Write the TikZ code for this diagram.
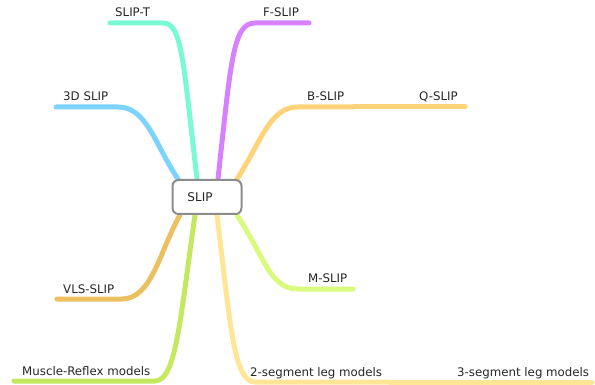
\documentclass[tikz,border=0pt]{standalone}
\usepackage{fontspec}
\setmainfont{DejaVu Sans}
\usetikzlibrary{backgrounds,calc}

\definecolor{c3d}{RGB}{125,211,255}
\definecolor{cslipt}{RGB}{122,250,212}
\definecolor{cfslip}{RGB}{214,130,255}
\definecolor{cbslip}{RGB}{255,211,122}
\definecolor{cvls}{RGB}{235,192,96}
\definecolor{cmuscle}{RGB}{196,232,96}
\definecolor{cseg}{RGB}{255,230,150}
\definecolor{cmslip}{RGB}{216,250,125}

\begin{document}
\begin{tikzpicture}[
    x=1pt, y=-1pt,
    topic/.style={rectangle, draw=gray!90, line width=2pt, rounded corners=6pt, fill=white, minimum width=69pt, minimum height=34pt, text=black!85, font=\fontsize{12}{14}\selectfont},
    leaf/.style={anchor=base west, inner sep=0pt, text=black!85, font=\fontsize{11.8}{14}\selectfont},
    branch/.style={line width=5pt, line cap=round},
]
\useasboundingbox (0,0) rectangle (595,385);

\node[topic] (slip) at (207,197) {SLIP\hspace*{14pt}};

% labels
\node[leaf] (slipt) at (115,17) {SLIP-T};
\node[leaf] (fslip) at (263,17) {F-SLIP};
\node[leaf] (threed) at (63,101) {3D SLIP};
\node[leaf] (bslip) at (307,101) {B-SLIP};
\node[leaf] (qslip) at (419,101) {Q-SLIP};
\node[leaf] (vls) at (63,293) {VLS-SLIP};
\node[leaf] (mslip) at (308,283) {M-SLIP};
\node[leaf] (muscle) at (22,375) {Muscle-Reflex models};
\node[leaf] (twoseg) at (250,376) {2-segment leg models};
\node[leaf] (threeseg) at (457,376) {3-segment leg models};

% free ends of the branches
\coordinate (slipt-end) at (110,23);
\coordinate (fslip-end) at (309,23);
\coordinate (threed-end) at (56,107);
\coordinate (bslip-end) at (354,107);
\coordinate (qslip-end) at (465,107);
\coordinate (vls-end) at (57,299);
\coordinate (mslip-end) at (353,289);
\coordinate (muscle-end) at (14,381);
\coordinate (twoseg-end) at (390,382);
\coordinate (threeseg-end) at (592,382);

\begin{scope}[on background layer]
\draw[branch, c3d] ($(slip.north)+(-29,0)$) .. controls (155,145) and (147,107) .. (118,107) -- (threed-end);
\draw[branch, cslipt] ($(slip.north)+(-10,0)$) .. controls (183,60) and (182,23) .. (163,23) -- (slipt-end);
\draw[branch, cfslip] ($(slip.north)+(11,0)$) .. controls (231,60) and (233,23) .. (255,23) -- (fslip-end);
\draw[branch, cbslip] ($(slip.north)+(30,0)$) .. controls (262,140) and (270,107) .. (298,107) -- (bslip-end);
\draw[branch, cbslip] (bslip-end) -- (qslip-end);
\draw[branch, cvls] ($(slip.south)+(-27,0)$) .. controls (160,250) and (152,299) .. (122,299) -- (vls-end);
\draw[branch, cmuscle] ($(slip.south)+(-12,0)$) .. controls (180,320) and (176,381) .. (155,381) -- (muscle-end);
\draw[branch, cseg] ($(slip.south)+(10,0)$) .. controls (230,320) and (233,382) .. (255,382) -- (twoseg-end);
\draw[branch, cseg] (twoseg-end) -- (threeseg-end);
\draw[branch, cmslip] ($(slip.south)+(30,0)$) .. controls (265,258) and (270,289) .. (298,289) -- (mslip-end);
\end{scope}
\end{tikzpicture}
\end{document}
